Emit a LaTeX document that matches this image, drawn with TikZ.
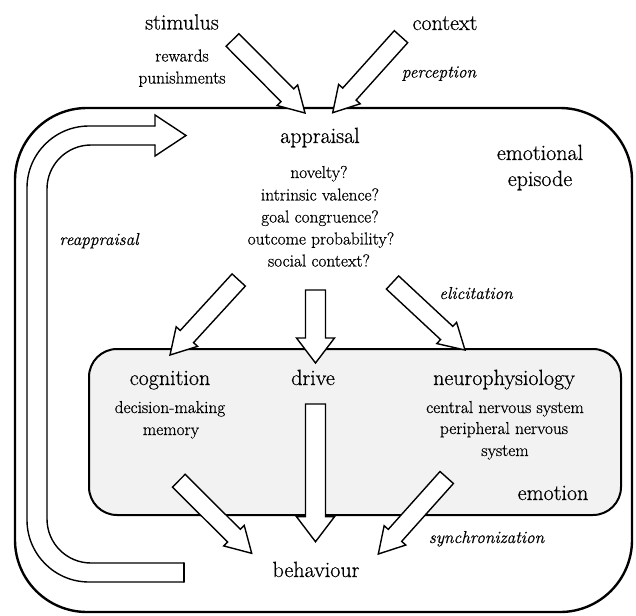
\documentclass[tikz,border=0pt]{standalone}
\usepackage{fontspec}
\setmainfont{Latin Modern Roman}[FakeBold=0.6]
\usetikzlibrary{calc}
\definecolor{boxgray}{HTML}{F2F2F2}
\newcommand{\bigf}{\fontsize{22}{26}\selectfont}
\newcommand{\smallf}{\fontsize{17.3}{21}\selectfont}
% #1 tail, #2 tip, #3 shaft half width, #4 head half width, #5 head length
\newcommand{\blockarrow}[5]{%
  \coordinate (#1-#2-h) at ($(#2)!#5!(#1)$);
  \draw[barrow] ($(#1)!#3!90:(#2)$) -- ($(#1-#2-h)!#3!90:(#2)$) -- ($(#1-#2-h)!#4!90:(#2)$) -- (#2)
    -- ($(#1-#2-h)!#4!-90:(#2)$) -- ($(#1-#2-h)!#3!-90:(#2)$) -- ($(#1)!#3!-90:(#2)$) -- cycle;}
\tikzset{
  barrow/.style={draw=black, fill=white, line width=1.4pt, line join=miter},
  bigtxt/.style={font=\bigf, anchor=base, inner sep=0pt},
  smalltxt/.style={font=\smallf, anchor=base, inner sep=0pt},
  itxt/.style={font=\smallf\itshape, anchor=base, inner sep=0pt},
}
\begin{document}
\begin{tikzpicture}[x=1pt, y=-1pt]
\useasboundingbox (0,0) rectangle (636,615);
% boxes
\node[draw, line width=2.4pt, rounded corners=72pt, minimum width=617pt, minimum height=504pt, inner sep=0pt] (episode) at (323.5,360) {};
\node[draw, line width=2pt, fill=boxgray, rounded corners=28pt, minimum width=532pt, minimum height=166pt, inner sep=0pt] (emobox) at (355,432) {};
% texts
\node[bigtxt] (stim) at (182,29.5) {stimulus};
\node[smalltxt] (rew) at (182,61.5) {rewards};
\node[smalltxt] (pun) at (182,83.5) {punishments};
\node[bigtxt] (ctx) at (445,30) {context};
\node[itxt] (perc) at (439,77.5) {perception};
\node[bigtxt] (appr) at (320,143) {appraisal};
\node[smalltxt] (q1) at (319,178) {novelty?};
\node[smalltxt] (q2) at (320,200.5) {intrinsic valence?};
\node[smalltxt] (q3) at (320,222.5) {goal congruence?};
\node[smalltxt] (q4) at (321,244.5) {outcome probability?};
\node[smalltxt] (q5) at (319,266.5) {social context?};
\node[bigtxt] (ep1) at (540,160) {emotional};
\node[bigtxt] (ep2) at (540,186) {episode};
\node[itxt] (reap) at (99,245) {reappraisal};
\node[itxt] (elic) at (476,299) {elicitation};
\node[bigtxt] (cog) at (170,385) {cognition};
\node[smalltxt] (cog1) at (170,413) {decision-making};
\node[smalltxt] (cog2) at (171,435) {memory};
\node[bigtxt] (drive) at (313,385) {drive};
\node[bigtxt] (neuro) at (504,385) {neurophysiology};
\node[smalltxt] (n1) at (505,413) {central nervous system};
\node[smalltxt] (n2) at (504,434) {peripheral nervous};
\node[smalltxt] (n3) at (505,456) {system};
\node[bigtxt] (emo) at (553,500) {emotion};
\node[bigtxt] (beh) at (316,577) {behaviour};
\node[itxt] (sync) at (486.5,543) {synchronization};
% arrow end points
\coordinate (stimT) at (232.5,40);   \coordinate (stimH) at (305,113);
\coordinate (ctxT) at (401,36.7);    \coordinate (ctxH) at (332.7,112.7);
\coordinate (acT) at (238.7,280);    \coordinate (acH) at (170,355);
\coordinate (adT) at (315.5,290);    \coordinate (adH) at (315.5,363);
\coordinate (anT) at (392.5,282.5);  \coordinate (anH) at (465,350);
\coordinate (cbT) at (178.8,480.7);  \coordinate (cbH) at (251.7,553.3);
\coordinate (dbT) at (315.5,404);    \coordinate (dbH) at (315.5,541.7);
\coordinate (nbT) at (446.7,477.5);  \coordinate (nbH) at (378.3,554);
% block arrows
\blockarrow{stimT}{stimH}{9pt}{14.5pt}{25pt}
\blockarrow{ctxT}{ctxH}{9pt}{14.5pt}{25pt}
\blockarrow{acT}{acH}{9pt}{14.5pt}{25pt}
\blockarrow{adT}{adH}{10pt}{19pt}{25pt}
\blockarrow{anT}{anH}{9pt}{14.5pt}{25pt}
\blockarrow{cbT}{cbH}{9pt}{14.5pt}{25pt}
\blockarrow{dbT}{dbH}{10pt}{19pt}{25pt}
\blockarrow{nbT}{nbH}{9pt}{14.5pt}{25pt}
% reappraisal loop
\coordinate (rlTailO) at (184,582); \coordinate (rlTailI) at (184,563);
\coordinate (rlHeadO) at (155,126); \coordinate (rlHeadI) at (155,145);
\coordinate (rlTip) at (186,135.5);
\draw[line width=1.4pt, line cap=round, rounded corners=62pt] (rlHeadO) -- (27,126) -- (27,582) -- (rlTailO);
\draw[line width=1.4pt, line cap=round, rounded corners=44pt] (rlHeadI) -- (47,145) -- (47,563) -- (rlTailI);
\draw[line width=1.4pt, line cap=round] (rlTailI) -- (rlTailO);
\draw[line width=1.4pt, line cap=round, line join=miter] (rlHeadO) -- (155,115) -- (rlTip) -- (155,156) -- (rlHeadI);
\end{tikzpicture}
\end{document}
